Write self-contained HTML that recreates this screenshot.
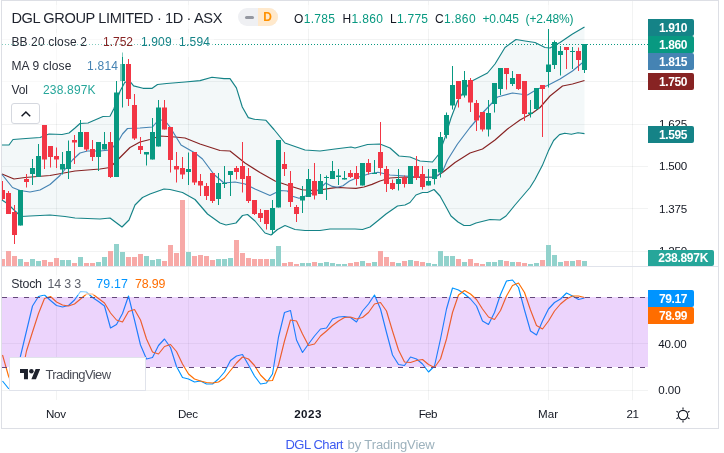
<!DOCTYPE html><html><head><meta charset="utf-8"><title>DGL Chart</title><style>
html,body{margin:0;padding:0;background:#fff}
body{width:724px;height:453px;position:relative;overflow:hidden;font-family:"Liberation Sans",sans-serif}
.t{position:absolute;white-space:nowrap;line-height:1}
.box{position:absolute;left:1px;top:0;width:716px;height:427px;border:1px solid #dddfe5}
.lb{position:absolute;z-index:2;left:648px;width:46px;height:17px;border-radius:0 2px 2px 0;color:#fff}
.lb .t{left:10.9px;color:#fff}

</style></head><body>
<div class="box"></div>
<svg width="724" height="453" viewBox="0 0 724 453" style="position:absolute;left:0;top:0">
<rect x="56" y="1" width="1" height="399" fill="rgba(42,46,57,0.06)"/>
<rect x="188" y="1" width="1" height="399" fill="rgba(42,46,57,0.06)"/>
<rect x="308" y="1" width="1" height="399" fill="rgba(42,46,57,0.06)"/>
<rect x="428" y="1" width="1" height="399" fill="rgba(42,46,57,0.06)"/>
<rect x="548" y="1" width="1" height="399" fill="rgba(42,46,57,0.06)"/>
<rect x="632" y="1" width="1" height="399" fill="rgba(42,46,57,0.06)"/>
<rect x="2" y="39" width="646" height="1" fill="rgba(42,46,57,0.06)"/>
<rect x="2" y="81" width="646" height="1" fill="rgba(42,46,57,0.06)"/>
<rect x="2" y="124" width="646" height="1" fill="rgba(42,46,57,0.06)"/>
<rect x="2" y="166" width="646" height="1" fill="rgba(42,46,57,0.06)"/>
<rect x="2" y="208" width="646" height="1" fill="rgba(42,46,57,0.06)"/>
<rect x="2" y="251" width="646" height="1" fill="rgba(42,46,57,0.06)"/>
<rect x="2" y="343" width="646" height="1" fill="rgba(42,46,57,0.06)"/>
<rect x="2" y="390" width="646" height="1" fill="rgba(42,46,57,0.06)"/>
<rect x="2" y="266" width="716" height="1" fill="#e0e3eb"/>
<polygon points="2,145 9,145 13,139.5 26,138.5 40,137.5 49,134 62,134.5 69,133 75,128 80,123.5 88,123 103,116.5 110,116.3 114,108.4 120,91.2 125,82 131,82.6 133.6,85.9 143,88.3 152.2,88.3 157.5,84.5 166.7,83.5 185,82 200,80.6 212,77.3 224,78.6 230,78.6 236.4,87.9 242.3,107 248.3,117.6 254.2,119.2 266,120.3 274,129.5 285,143 305,150 320,151 335,149 351,147 355,148 367.5,144.5 380,144 390,148 399,156 410,157 420,161 432.5,162 439,154 445,137.5 451,118 457.5,101 470,82 487.5,73 495,64 505,47.5 516,39.5 525,41 535,42.5 545,47.5 550,48 560,42.5 572.5,34 584.5,27 584.5,133.6 578,132.8 571.4,134.3 564.8,133.2 559.5,134.6 553.6,140.5 548.3,151.1 542.3,165.6 535,179.5 530,187.5 521,198 515,205 506,216 500,220 490,219.5 476,223 470,225.5 464,225.5 458,222 451,216 445,205 440,196 434,189.5 427.5,192.5 422.5,192.5 416,195 410,202.5 405,205 397.5,206 386,214 377.5,221 370,227 362.5,229.5 355,229 340,229 330,229 320,230.5 305,230.5 295,229.5 285,225.5 277.5,229.5 271,235 265,233 255,221 247.5,214.5 242.5,215.5 236,223 226,225 220,223 207.5,214 195,199.5 182.5,192.5 170,189.5 164,189 150,194 142.5,197.5 135,205 129,220 122,227 110,218 100,219 75,218 65,216.5 50,215 30,216 21,216.5 14,210 8,204 2,200" fill="rgb(10,110,130)" fill-opacity="0.05"/>
<rect x="2" y="259" width="3" height="7" fill="#f7a9a7"/>
<rect x="6" y="251" width="5" height="15" fill="#f7a9a7"/>
<rect x="12" y="256" width="5" height="10" fill="#f7a9a7"/>
<rect x="18" y="259" width="5" height="7" fill="#92d2cc"/>
<rect x="24" y="262" width="5" height="4" fill="#f7a9a7"/>
<rect x="30" y="259" width="5" height="7" fill="#92d2cc"/>
<rect x="36" y="261" width="5" height="5" fill="#92d2cc"/>
<rect x="42" y="260" width="5" height="6" fill="#f7a9a7"/>
<rect x="48" y="262" width="5" height="4" fill="#f7a9a7"/>
<rect x="54" y="258" width="5" height="8" fill="#f7a9a7"/>
<rect x="60" y="260" width="5" height="6" fill="#92d2cc"/>
<rect x="66" y="260" width="5" height="6" fill="#92d2cc"/>
<rect x="72" y="263" width="5" height="3" fill="#f7a9a7"/>
<rect x="78" y="257" width="5" height="9" fill="#92d2cc"/>
<rect x="84" y="263" width="5" height="3" fill="#f7a9a7"/>
<rect x="90" y="263" width="5" height="3" fill="#f7a9a7"/>
<rect x="96" y="262" width="5" height="4" fill="#92d2cc"/>
<rect x="102" y="257" width="5" height="9" fill="#92d2cc"/>
<rect x="108" y="251" width="5" height="15" fill="#f7a9a7"/>
<rect x="114" y="244" width="5" height="22" fill="#92d2cc"/>
<rect x="120" y="252" width="5" height="14" fill="#92d2cc"/>
<rect x="126" y="257" width="5" height="9" fill="#f7a9a7"/>
<rect x="132" y="257" width="5" height="9" fill="#f7a9a7"/>
<rect x="138" y="254" width="5" height="12" fill="#f7a9a7"/>
<rect x="144" y="256" width="5" height="10" fill="#92d2cc"/>
<rect x="150" y="260" width="5" height="6" fill="#92d2cc"/>
<rect x="156" y="259" width="5" height="7" fill="#92d2cc"/>
<rect x="162" y="261" width="5" height="5" fill="#f7a9a7"/>
<rect x="168" y="245" width="5" height="21" fill="#f7a9a7"/>
<rect x="174" y="253" width="5" height="13" fill="#f7a9a7"/>
<rect x="180" y="200" width="5" height="66" fill="#f7a9a7"/>
<rect x="186" y="252" width="5" height="14" fill="#92d2cc"/>
<rect x="192" y="256" width="5" height="10" fill="#f7a9a7"/>
<rect x="198" y="255" width="5" height="11" fill="#f7a9a7"/>
<rect x="204" y="256" width="5" height="10" fill="#f7a9a7"/>
<rect x="210" y="260" width="5" height="6" fill="#f7a9a7"/>
<rect x="216" y="259" width="5" height="7" fill="#92d2cc"/>
<rect x="222" y="259" width="5" height="7" fill="#92d2cc"/>
<rect x="228" y="258" width="5" height="8" fill="#92d2cc"/>
<rect x="234" y="240" width="5" height="26" fill="#f7a9a7"/>
<rect x="240" y="253" width="5" height="13" fill="#f7a9a7"/>
<rect x="246" y="258" width="5" height="8" fill="#f7a9a7"/>
<rect x="252" y="259" width="5" height="7" fill="#f7a9a7"/>
<rect x="258" y="259" width="5" height="7" fill="#f7a9a7"/>
<rect x="264" y="259" width="5" height="7" fill="#f7a9a7"/>
<rect x="270" y="259" width="5" height="7" fill="#92d2cc"/>
<rect x="276" y="246" width="5" height="20" fill="#92d2cc"/>
<rect x="282" y="263" width="5" height="3" fill="#f7a9a7"/>
<rect x="288" y="262" width="5" height="4" fill="#f7a9a7"/>
<rect x="294" y="264" width="5" height="2" fill="#f7a9a7"/>
<rect x="300" y="263" width="5" height="3" fill="#92d2cc"/>
<rect x="306" y="263" width="5" height="3" fill="#92d2cc"/>
<rect x="312" y="262" width="5" height="4" fill="#f7a9a7"/>
<rect x="318" y="263" width="5" height="3" fill="#92d2cc"/>
<rect x="324" y="262" width="5" height="4" fill="#92d2cc"/>
<rect x="330" y="263" width="5" height="3" fill="#92d2cc"/>
<rect x="336" y="264" width="5" height="2" fill="#92d2cc"/>
<rect x="342" y="264" width="5" height="2" fill="#92d2cc"/>
<rect x="348" y="263" width="5" height="3" fill="#f7a9a7"/>
<rect x="354" y="262" width="5" height="4" fill="#f7a9a7"/>
<rect x="360" y="261" width="5" height="5" fill="#92d2cc"/>
<rect x="366" y="263" width="5" height="3" fill="#f7a9a7"/>
<rect x="372" y="262" width="5" height="4" fill="#92d2cc"/>
<rect x="378" y="251" width="5" height="15" fill="#f7a9a7"/>
<rect x="384" y="257" width="5" height="9" fill="#f7a9a7"/>
<rect x="390" y="262" width="5" height="4" fill="#f7a9a7"/>
<rect x="396" y="263" width="5" height="3" fill="#92d2cc"/>
<rect x="402" y="261" width="5" height="5" fill="#f7a9a7"/>
<rect x="408" y="260" width="5" height="6" fill="#92d2cc"/>
<rect x="414" y="261" width="5" height="5" fill="#f7a9a7"/>
<rect x="420" y="262" width="5" height="4" fill="#f7a9a7"/>
<rect x="426" y="263" width="5" height="3" fill="#92d2cc"/>
<rect x="432" y="264" width="5" height="2" fill="#92d2cc"/>
<rect x="438" y="251" width="5" height="15" fill="#92d2cc"/>
<rect x="444" y="256" width="5" height="10" fill="#92d2cc"/>
<rect x="450" y="256" width="5" height="10" fill="#92d2cc"/>
<rect x="456" y="259" width="5" height="7" fill="#f7a9a7"/>
<rect x="462" y="262" width="5" height="4" fill="#92d2cc"/>
<rect x="468" y="259" width="5" height="7" fill="#f7a9a7"/>
<rect x="474" y="263" width="5" height="3" fill="#f7a9a7"/>
<rect x="480" y="264" width="5" height="2" fill="#f7a9a7"/>
<rect x="486" y="262" width="5" height="4" fill="#92d2cc"/>
<rect x="492" y="262" width="5" height="4" fill="#92d2cc"/>
<rect x="498" y="260" width="5" height="6" fill="#92d2cc"/>
<rect x="504" y="261" width="5" height="5" fill="#f7a9a7"/>
<rect x="510" y="262" width="5" height="4" fill="#92d2cc"/>
<rect x="516" y="262" width="5" height="4" fill="#f7a9a7"/>
<rect x="522" y="263" width="5" height="3" fill="#f7a9a7"/>
<rect x="528" y="264" width="5" height="2" fill="#92d2cc"/>
<rect x="534" y="263" width="5" height="3" fill="#92d2cc"/>
<rect x="540" y="260" width="5" height="6" fill="#f7a9a7"/>
<rect x="546" y="245" width="5" height="21" fill="#92d2cc"/>
<rect x="552" y="255" width="5" height="11" fill="#92d2cc"/>
<rect x="558" y="262" width="5" height="4" fill="#92d2cc"/>
<rect x="564" y="261" width="5" height="5" fill="#f7a9a7"/>
<rect x="570" y="261" width="5" height="5" fill="#92d2cc"/>
<rect x="576" y="260" width="5" height="6" fill="#f7a9a7"/>
<rect x="582" y="261" width="5" height="5" fill="#92d2cc"/>
<polyline points="2,174 14,179 25,177.5 50,175.5 75,171 100,169 110,167.5 117.5,160 130,147.5 140,142 150,139.5 160,136 175,137 185,138 200,144 220,150.5 230,151 245,163 260,172.5 275,181 290,186 302,189.7 308.5,190.3 318,190.3 330,188.4 337.6,187.4 347,188 356,188.4 364,187 372,184.4 380,181 390,178 405,177 422.5,177.5 435,177 442.5,172.5 455,162.5 470,153 482.5,149 495,140 507.5,129 520,120 532.5,113 540,107.5 550,96 562.5,86 572.5,84 584.5,80.5" fill="none" stroke="#872323" stroke-width="1.15" stroke-linejoin="round"/>
<polyline points="2,145 9,145 13,139.5 26,138.5 40,137.5 49,134 62,134.5 69,133 75,128 80,123.5 88,123 103,116.5 110,116.3 114,108.4 120,91.2 125,82 131,82.6 133.6,85.9 143,88.3 152.2,88.3 157.5,84.5 166.7,83.5 185,82 200,80.6 212,77.3 224,78.6 230,78.6 236.4,87.9 242.3,107 248.3,117.6 254.2,119.2 266,120.3 274,129.5 285,143 305,150 320,151 335,149 351,147 355,148 367.5,144.5 380,144 390,148 399,156 410,157 420,161 432.5,162 439,154 445,137.5 451,118 457.5,101 470,82 487.5,73 495,64 505,47.5 516,39.5 525,41 535,42.5 545,47.5 550,48 560,42.5 572.5,34 584.5,27" fill="none" stroke="#158387" stroke-width="1.15" stroke-linejoin="round"/>
<polyline points="2,200 8,204 14,210 21,216.5 30,216 50,215 65,216.5 75,218 100,219 110,218 122,227 129,220 135,205 142.5,197.5 150,194 164,189 170,189.5 182.5,192.5 195,199.5 207.5,214 220,223 226,225 236,223 242.5,215.5 247.5,214.5 255,221 265,233 271,235 277.5,229.5 285,225.5 295,229.5 305,230.5 320,230.5 330,229 340,229 355,229 362.5,229.5 370,227 377.5,221 386,214 397.5,206 405,205 410,202.5 416,195 422.5,192.5 427.5,192.5 434,189.5 440,196 445,205 451,216 458,222 464,225.5 470,225.5 476,223 490,219.5 500,220 506,216 515,205 521,198 530,187.5 535,179.5 542.3,165.6 548.3,151.1 553.6,140.5 559.5,134.6 564.8,133.2 571.4,134.3 578,132.8 584.5,133.6" fill="none" stroke="#158387" stroke-width="1.15" stroke-linejoin="round"/>
<polyline points="2,174.5 12.5,187.5 20,190.5 30,192 40,190 50,184.5 60,175.5 72.5,160 80,153 87.5,151 100,151 110,150 117.5,142.5 122.5,134 127.5,128.5 140,128 152.5,127 157.5,121 164,119.5 170,127 181,145 195,153 202.5,159 214,174.5 224,183 235,182 245,184 255,189 270,195.5 280,190.5 287.5,191 292.5,196.3 299,198.3 308.5,195 318,190.3 325.7,183 332.3,186.4 337.6,187.3 343,185.7 349.5,181 358.8,177 369.4,173.8 378,172.3 390,175 405,176 422.5,177 435,177.5 442.5,171.5 447.5,160 457.5,144 470,127.5 482.5,113 492.5,102.5 497.5,97 512.5,93 527.5,95 537.5,89 547.5,85.5 560,79 572.5,71 584.5,61" fill="none" stroke="#4583b3" stroke-width="1.15" stroke-linejoin="round"/>
<rect x="2" y="181" width="1" height="19" fill="#f23645"/>
<rect x="2" y="190" width="3" height="9" fill="#f23645"/>
<rect x="8" y="191" width="1" height="23" fill="#f23645"/>
<rect x="6" y="193" width="5" height="21" fill="#f23645"/>
<rect x="14" y="205" width="1" height="39" fill="#f23645"/>
<rect x="12" y="212" width="5" height="23" fill="#f23645"/>
<rect x="20" y="190" width="1" height="35.5" fill="#089981"/>
<rect x="18" y="190" width="5" height="35.5" fill="#089981"/>
<rect x="26" y="174" width="1" height="13.5" fill="#f23645"/>
<rect x="24" y="179" width="5" height="3" fill="#f23645"/>
<rect x="32" y="159" width="1" height="26" fill="#089981"/>
<rect x="30" y="168" width="5" height="6" fill="#089981"/>
<rect x="38" y="144" width="1" height="33" fill="#089981"/>
<rect x="36" y="156" width="5" height="21" fill="#089981"/>
<rect x="44" y="125" width="1" height="44" fill="#f23645"/>
<rect x="42" y="125" width="5" height="34.5" fill="#f23645"/>
<rect x="50" y="146" width="1" height="21.5" fill="#f23645"/>
<rect x="48" y="146" width="5" height="11" fill="#f23645"/>
<rect x="56" y="147.5" width="1" height="20.5" fill="#f23645"/>
<rect x="54" y="156" width="5" height="3.5" fill="#f23645"/>
<rect x="62" y="152" width="1" height="22.5" fill="#089981"/>
<rect x="60" y="164" width="5" height="5.5" fill="#089981"/>
<rect x="68" y="140.5" width="1" height="38.5" fill="#089981"/>
<rect x="66" y="151" width="5" height="18" fill="#089981"/>
<rect x="74" y="135" width="1" height="29" fill="#f23645"/>
<rect x="72" y="140" width="5" height="2.5" fill="#f23645"/>
<rect x="80" y="120" width="1" height="27" fill="#089981"/>
<rect x="78" y="132" width="5" height="15" fill="#089981"/>
<rect x="86" y="132" width="1" height="19" fill="#f23645"/>
<rect x="84" y="132" width="5" height="17.5" fill="#f23645"/>
<rect x="92" y="140" width="1" height="21" fill="#f23645"/>
<rect x="90" y="149" width="5" height="8" fill="#f23645"/>
<rect x="98" y="142" width="1" height="29" fill="#089981"/>
<rect x="96" y="142" width="5" height="15" fill="#089981"/>
<rect x="104" y="132" width="1" height="17.5" fill="#089981"/>
<rect x="102" y="144" width="5" height="5.5" fill="#089981"/>
<rect x="110" y="132" width="1" height="46" fill="#f23645"/>
<rect x="108" y="142" width="5" height="35" fill="#f23645"/>
<rect x="116" y="81" width="1" height="96" fill="#089981"/>
<rect x="114" y="92.5" width="5" height="84.5" fill="#089981"/>
<rect x="122" y="52.5" width="1" height="55" fill="#089981"/>
<rect x="120" y="64" width="5" height="17" fill="#089981"/>
<rect x="128" y="59" width="1" height="47" fill="#f23645"/>
<rect x="126" y="64" width="5" height="35" fill="#f23645"/>
<rect x="134" y="94" width="1" height="46" fill="#f23645"/>
<rect x="132" y="105" width="5" height="33.5" fill="#f23645"/>
<rect x="140" y="137" width="1" height="17" fill="#f23645"/>
<rect x="138" y="146" width="5" height="4" fill="#f23645"/>
<rect x="146" y="152" width="1" height="13.5" fill="#089981"/>
<rect x="144" y="152" width="5" height="2.5" fill="#089981"/>
<rect x="152" y="118" width="1" height="41.5" fill="#089981"/>
<rect x="150" y="132" width="5" height="27.5" fill="#089981"/>
<rect x="158" y="100" width="1" height="46.5" fill="#089981"/>
<rect x="156" y="107.5" width="5" height="39" fill="#089981"/>
<rect x="164" y="100" width="1" height="29.5" fill="#f23645"/>
<rect x="162" y="107.5" width="5" height="22" fill="#f23645"/>
<rect x="170" y="127" width="1" height="45.5" fill="#f23645"/>
<rect x="168" y="127" width="5" height="33" fill="#f23645"/>
<rect x="176" y="152" width="1" height="30.5" fill="#f23645"/>
<rect x="174" y="166" width="5" height="3.5" fill="#f23645"/>
<rect x="182" y="157" width="1" height="22" fill="#f23645"/>
<rect x="180" y="168" width="5" height="6.5" fill="#f23645"/>
<rect x="188" y="152.5" width="1" height="32.5" fill="#089981"/>
<rect x="186" y="169" width="5" height="3" fill="#089981"/>
<rect x="194" y="152" width="1" height="33" fill="#f23645"/>
<rect x="192" y="152" width="5" height="30.5" fill="#f23645"/>
<rect x="200" y="174" width="1" height="22" fill="#f23645"/>
<rect x="198" y="181" width="5" height="4.5" fill="#f23645"/>
<rect x="206" y="183" width="1" height="17" fill="#f23645"/>
<rect x="204" y="186" width="5" height="10" fill="#f23645"/>
<rect x="212" y="173" width="1" height="30" fill="#f23645"/>
<rect x="210" y="173" width="5" height="28" fill="#f23645"/>
<rect x="218" y="173" width="1" height="32" fill="#089981"/>
<rect x="216" y="183" width="5" height="16" fill="#089981"/>
<rect x="224" y="166" width="1" height="22" fill="#089981"/>
<rect x="222" y="183" width="5" height="1" fill="#089981"/>
<rect x="230" y="171" width="1" height="25" fill="#089981"/>
<rect x="228" y="171" width="5" height="4" fill="#089981"/>
<rect x="236" y="166" width="1" height="13.5" fill="#f23645"/>
<rect x="234" y="168" width="5" height="4" fill="#f23645"/>
<rect x="242" y="142" width="1" height="50.5" fill="#f23645"/>
<rect x="240" y="166" width="5" height="13" fill="#f23645"/>
<rect x="248" y="168" width="1" height="35" fill="#f23645"/>
<rect x="246" y="176" width="5" height="25" fill="#f23645"/>
<rect x="254" y="200" width="1" height="15" fill="#f23645"/>
<rect x="252" y="200" width="5" height="14" fill="#f23645"/>
<rect x="260" y="209" width="1" height="13" fill="#f23645"/>
<rect x="258" y="213" width="5" height="5" fill="#f23645"/>
<rect x="266" y="210" width="1" height="19.5" fill="#f23645"/>
<rect x="264" y="210" width="5" height="14" fill="#f23645"/>
<rect x="272" y="200" width="1" height="34.5" fill="#089981"/>
<rect x="270" y="208" width="5" height="22" fill="#089981"/>
<rect x="278" y="140" width="1" height="67.5" fill="#089981"/>
<rect x="276" y="140" width="5" height="67.5" fill="#089981"/>
<rect x="284" y="152" width="1" height="24" fill="#f23645"/>
<rect x="282" y="164" width="5" height="5" fill="#f23645"/>
<rect x="290" y="171" width="1" height="36" fill="#f23645"/>
<rect x="288" y="183" width="5" height="19" fill="#f23645"/>
<rect x="296" y="205" width="1" height="17" fill="#f23645"/>
<rect x="294" y="207" width="5" height="7" fill="#f23645"/>
<rect x="302" y="186" width="1" height="27" fill="#089981"/>
<rect x="300" y="196" width="5" height="4.5" fill="#089981"/>
<rect x="308" y="169" width="1" height="28" fill="#089981"/>
<rect x="306" y="179" width="5" height="18" fill="#089981"/>
<rect x="314" y="163" width="1" height="36.5" fill="#f23645"/>
<rect x="312" y="181" width="5" height="14.5" fill="#f23645"/>
<rect x="320" y="174" width="1" height="20" fill="#089981"/>
<rect x="318" y="181" width="5" height="13" fill="#089981"/>
<rect x="326" y="175.5" width="1" height="24.5" fill="#089981"/>
<rect x="324" y="177" width="5" height="1" fill="#089981"/>
<rect x="332" y="161" width="1" height="18" fill="#089981"/>
<rect x="330" y="171" width="5" height="8" fill="#089981"/>
<rect x="338" y="169" width="1" height="16" fill="#089981"/>
<rect x="336" y="175.5" width="5" height="1.5" fill="#089981"/>
<rect x="344" y="171" width="1" height="8.5" fill="#089981"/>
<rect x="342" y="178" width="5" height="1.5" fill="#089981"/>
<rect x="350" y="170" width="1" height="8" fill="#f23645"/>
<rect x="348" y="173" width="5" height="4" fill="#f23645"/>
<rect x="356" y="166" width="1" height="19.5" fill="#f23645"/>
<rect x="354" y="173" width="5" height="6" fill="#f23645"/>
<rect x="362" y="163" width="1" height="22.5" fill="#089981"/>
<rect x="360" y="163" width="5" height="22.5" fill="#089981"/>
<rect x="368" y="159" width="1" height="15.5" fill="#f23645"/>
<rect x="366" y="163" width="5" height="9" fill="#f23645"/>
<rect x="374" y="160" width="1" height="14" fill="#089981"/>
<rect x="372" y="173" width="5" height="1" fill="#089981"/>
<rect x="380" y="122" width="1" height="53.5" fill="#f23645"/>
<rect x="378" y="152" width="5" height="16" fill="#f23645"/>
<rect x="386" y="166" width="1" height="26" fill="#f23645"/>
<rect x="384" y="169" width="5" height="15" fill="#f23645"/>
<rect x="392" y="179.5" width="1" height="10.5" fill="#f23645"/>
<rect x="390" y="183" width="5" height="6" fill="#f23645"/>
<rect x="398" y="169" width="1" height="21.5" fill="#089981"/>
<rect x="396" y="179" width="5" height="5" fill="#089981"/>
<rect x="404" y="175.5" width="1" height="12" fill="#f23645"/>
<rect x="402" y="177.5" width="5" height="6.5" fill="#f23645"/>
<rect x="410" y="166" width="1" height="18" fill="#089981"/>
<rect x="408" y="166" width="5" height="18" fill="#089981"/>
<rect x="416" y="156" width="1" height="24" fill="#f23645"/>
<rect x="414" y="166" width="5" height="12" fill="#f23645"/>
<rect x="422" y="166" width="1" height="23.5" fill="#f23645"/>
<rect x="420" y="174" width="5" height="13" fill="#f23645"/>
<rect x="428" y="169" width="1" height="16.5" fill="#089981"/>
<rect x="426" y="181" width="5" height="4.5" fill="#089981"/>
<rect x="434" y="169" width="1" height="15.5" fill="#089981"/>
<rect x="432" y="169" width="5" height="10" fill="#089981"/>
<rect x="440" y="132" width="1" height="45.5" fill="#089981"/>
<rect x="438" y="137" width="5" height="35.5" fill="#089981"/>
<rect x="446" y="112.5" width="1" height="26" fill="#089981"/>
<rect x="444" y="115" width="5" height="20" fill="#089981"/>
<rect x="452" y="66" width="1" height="43.5" fill="#089981"/>
<rect x="450" y="85" width="5" height="20.5" fill="#089981"/>
<rect x="458" y="81" width="1" height="26.5" fill="#f23645"/>
<rect x="456" y="81" width="5" height="18" fill="#f23645"/>
<rect x="464" y="71" width="1" height="26.5" fill="#089981"/>
<rect x="462" y="80" width="5" height="15.5" fill="#089981"/>
<rect x="470" y="78" width="1" height="34" fill="#f23645"/>
<rect x="468" y="80" width="5" height="22.5" fill="#f23645"/>
<rect x="476" y="100" width="1" height="31" fill="#f23645"/>
<rect x="474" y="103" width="5" height="17.5" fill="#f23645"/>
<rect x="482" y="112" width="1" height="19.5" fill="#f23645"/>
<rect x="480" y="112" width="5" height="17.5" fill="#f23645"/>
<rect x="488" y="100" width="1" height="36.5" fill="#089981"/>
<rect x="486" y="113" width="5" height="16.5" fill="#089981"/>
<rect x="494" y="83" width="1" height="29.5" fill="#089981"/>
<rect x="492" y="83" width="5" height="21" fill="#089981"/>
<rect x="500" y="68" width="1" height="27" fill="#089981"/>
<rect x="498" y="68" width="5" height="21" fill="#089981"/>
<rect x="506" y="68" width="1" height="21.5" fill="#f23645"/>
<rect x="504" y="68" width="5" height="6" fill="#f23645"/>
<rect x="512" y="71" width="1" height="15" fill="#089981"/>
<rect x="510" y="78" width="5" height="6" fill="#089981"/>
<rect x="518" y="74" width="1" height="16" fill="#f23645"/>
<rect x="516" y="74" width="5" height="15" fill="#f23645"/>
<rect x="524" y="81" width="1" height="40" fill="#f23645"/>
<rect x="522" y="81" width="5" height="33" fill="#f23645"/>
<rect x="530" y="100" width="1" height="17.5" fill="#089981"/>
<rect x="528" y="112.5" width="5" height="1.5" fill="#089981"/>
<rect x="536" y="88" width="1" height="22.5" fill="#089981"/>
<rect x="534" y="88" width="5" height="21" fill="#089981"/>
<rect x="542" y="85" width="1" height="52" fill="#f23645"/>
<rect x="540" y="85" width="5" height="4" fill="#f23645"/>
<rect x="548" y="29" width="1" height="58.5" fill="#089981"/>
<rect x="546" y="64.5" width="5" height="7.5" fill="#089981"/>
<rect x="554" y="40.5" width="1" height="28.5" fill="#089981"/>
<rect x="552" y="42" width="5" height="23" fill="#089981"/>
<rect x="560" y="46" width="1" height="29.5" fill="#089981"/>
<rect x="558" y="51" width="5" height="4" fill="#089981"/>
<rect x="566" y="47" width="1" height="22" fill="#f23645"/>
<rect x="564" y="47" width="5" height="3" fill="#f23645"/>
<rect x="572" y="47" width="1" height="22" fill="#089981"/>
<rect x="570" y="51" width="5" height="1" fill="#089981"/>
<rect x="578" y="47.5" width="1" height="23.5" fill="#f23645"/>
<rect x="576" y="51" width="5" height="9" fill="#f23645"/>
<rect x="584" y="44" width="1" height="29" fill="#089981"/>
<rect x="582" y="44" width="5" height="26" fill="#089981"/>
<line x1="2" y1="44.5" x2="648" y2="44.5" stroke="#089981" stroke-width="1" stroke-dasharray="1 2"/>
<clipPath id="sc"><rect x="2" y="267" width="646" height="133"/></clipPath>
<g clip-path="url(#sc)"><polyline points="2.5,381 8.5,388.5 14.5,388 20.5,356 26.5,331 32.5,306 38.5,296.5 44.5,295 50.5,300.5 56.5,305.5 62.5,307 68.5,305.5 74.5,300 80.5,291.5 86.5,292 92.5,297.5 98.5,301.5 104.5,306 110.5,328 116.5,324.5 122.5,313.5 128.5,296 134.5,320 140.5,345 146.5,359 152.5,357.5 158.5,345.5 164.5,339 170.5,347.5 176.5,366.5 182.5,377.5 188.5,379 194.5,382 200.5,381 206.5,384 212.5,384 218.5,379 224.5,372 230.5,360.5 236.5,356 242.5,354.5 248.5,365 254.5,376 260.5,384 266.5,383 272.5,374 278.5,337 284.5,312.5 290.5,310.5 296.5,340 302.5,352.5 308.5,344 314.5,336 320.5,329 326.5,328 332.5,319 338.5,317 344.5,316.5 350.5,317.5 356.5,322 362.5,311 368.5,304 374.5,295 380.5,309 386.5,332.5 392.5,355 398.5,364.5 404.5,365.5 410.5,357 416.5,359 422.5,364 428.5,372 434.5,366 440.5,339 446.5,309 452.5,288 458.5,290 464.5,294 470.5,299 476.5,306 482.5,321 488.5,324.5 494.5,312.5 500.5,294.5 506.5,281 512.5,280 518.5,287.5 524.5,310 530.5,331 536.5,335 542.5,321 548.5,309 554.5,302.5 560.5,299 566.5,293 572.5,296 578.5,299.5 584.5,298" fill="none" stroke="#0094ff" stroke-width="1.15" stroke-linejoin="round"/>
<polyline points="2.5,355 8.5,376 14.5,390 20.5,380 26.5,351 32.5,332 38.5,313.5 44.5,298.5 50.5,296.5 56.5,302 62.5,305 68.5,306 74.5,304 80.5,299 86.5,294 92.5,294 98.5,298.5 104.5,303 110.5,313 116.5,320 122.5,322 128.5,311.5 134.5,309.5 140.5,320 146.5,339 152.5,352 158.5,354 164.5,346.5 170.5,344.5 176.5,351.5 182.5,364 188.5,374 194.5,379 200.5,381 206.5,382.5 212.5,383 218.5,382 224.5,378 230.5,370.5 236.5,363 242.5,357 248.5,359 254.5,365.5 260.5,375 266.5,381 272.5,380.5 278.5,365 284.5,341 290.5,320 296.5,321 302.5,334 308.5,345.5 314.5,344 320.5,336 326.5,331 332.5,325.5 338.5,321 344.5,317.5 350.5,317 356.5,319 362.5,317.5 368.5,312.5 374.5,304 380.5,302.5 386.5,311 392.5,331 398.5,350 404.5,362 410.5,362.5 416.5,360.5 422.5,359.5 428.5,364.5 434.5,367.5 440.5,359 446.5,339 452.5,312.5 458.5,295 464.5,290.5 470.5,294 476.5,299.5 482.5,309 488.5,317 494.5,319.5 500.5,310.5 506.5,296 512.5,285.5 518.5,283 524.5,292.5 530.5,310 536.5,325.5 542.5,329 548.5,321 554.5,311 560.5,304 566.5,299 572.5,296 578.5,296 584.5,297.5" fill="none" stroke="#ff6d00" stroke-width="1.15" stroke-linejoin="round"/></g>
<rect x="2" y="297" width="646" height="70" fill="rgb(160,35,240)" fill-opacity="0.195"/>
<line x1="2" y1="297.5" x2="648" y2="297.5" stroke="#64487a" stroke-width="1" stroke-dasharray="5 6"/>
<line x1="2" y1="367.5" x2="648" y2="367.5" stroke="#64487a" stroke-width="1" stroke-dasharray="5 6"/>
<rect x="2" y="5" width="576" height="24" fill="#fff" fill-opacity="0.5"/>
<rect x="2" y="33" width="212" height="24" fill="#fff" fill-opacity="0.5"/>
<rect x="2" y="57" width="120" height="24" fill="#fff" fill-opacity="0.5"/>
<rect x="2" y="81" width="98" height="22" fill="#fff" fill-opacity="0.5"/>
<rect x="2" y="275" width="168" height="20" fill="#fff" fill-opacity="0.5"/>
</svg>
<div class="lb" style="top:19px;height:17px;background:#158387;width:46px;left:648px;border-radius:0 2px 2px 0"></div>
<div class="lb" style="top:36px;height:17px;background:#089981;width:46px;left:648px;border-radius:0 2px 2px 0"></div>
<div class="lb" style="top:53px;height:17px;background:#4583b3;width:46px;left:648px;border-radius:0 2px 2px 0"></div>
<div class="lb" style="top:73px;height:17px;background:#872323;width:46px;left:648px;border-radius:0 2px 2px 0"></div>
<div class="lb" style="top:126px;height:17px;background:#158387;width:46px;left:648px;border-radius:0 2px 2px 0"></div>
<div class="lb" style="top:250px;height:16px;background:#26a69a;width:66px;left:648px;border-radius:0 2px 2px 0"></div>
<div class="lb" style="top:290px;height:17px;background:#0094ff;width:46px;left:648px;border-radius:0 2px 2px 0"></div>
<div class="lb" style="top:307px;height:17px;background:#ff6d00;width:46px;left:648px;border-radius:0 2px 2px 0"></div>
<div style="position:absolute;left:238px;top:8px;width:40px;height:18px;border-radius:9px;overflow:hidden;background:#eff0f3"><div style="position:absolute;left:20px;top:0;width:20px;height:18px;background:#ffe9cc"></div><div style="position:absolute;left:6.5px;top:7.5px;width:9px;height:3px;border-radius:1.5px;background:#9598a1"></div></div>
<div style="position:absolute;left:11px;top:103px;width:27px;height:19px;border:1px solid #d5d8df;border-radius:3px;background:#fff"><svg width="27" height="19" style="position:absolute;left:0;top:0"><path d="M9.6 12.2 L13.9 8 L18.2 12.2" fill="none" stroke="#131722" stroke-width="1.5"/></svg></div>
<div style="position:absolute;left:9px;top:357px;width:135px;height:32px;border:1px solid #e0e3eb;background:#fff"><svg width="20.5" height="10.25" viewBox="0 0 36 18" style="position:absolute;left:9.5px;top:11.4px"><path d="M14 18H7V7H0V0h14v18zM28 18h-8l7.5-18h8L28 18z" fill="#1e222d"/><circle cx="20" cy="4" r="4" fill="#1e222d"/></svg></div>
<svg width="16" height="16" viewBox="-8 -8 16 16" style="position:absolute;left:675.4px;top:406.5px"><circle r="4.7" fill="none" stroke="#131722" stroke-width="1.15"/><g stroke="#131722" stroke-width="1.1"><line x1="0" y1="-5.6" x2="0" y2="-7.5" transform="rotate(0)"/><line x1="0" y1="-5.6" x2="0" y2="-7.5" transform="rotate(60)"/><line x1="0" y1="-5.6" x2="0" y2="-7.5" transform="rotate(120)"/><line x1="0" y1="-5.6" x2="0" y2="-7.5" transform="rotate(180)"/><line x1="0" y1="-5.6" x2="0" y2="-7.5" transform="rotate(240)"/><line x1="0" y1="-5.6" x2="0" y2="-7.5" transform="rotate(300)"/></g></svg>
<span class="t" id="t0" style="left:11.4px;top:10.54px;font-size:14.6px;color:#1e222d;font-weight:400;letter-spacing:-0.385px">DGL GROUP LIMITED · 1D · ASX</span>
<span class="t" id="t1" style="left:294px;top:13.24px;font-size:12px;color:#131722;font-weight:400;letter-spacing:0.325px">O<span style="color:#089981">1.785</span></span>
<span class="t" id="t2" style="left:342.6px;top:13.24px;font-size:12px;color:#131722;font-weight:400;letter-spacing:0.339px">H<span style="color:#089981">1.860</span></span>
<span class="t" id="t3" style="left:390px;top:13.24px;font-size:12px;color:#131722;font-weight:400;letter-spacing:0.256px">L<span style="color:#089981">1.775</span></span>
<span class="t" id="t4" style="left:435px;top:13.24px;font-size:12px;color:#131722;font-weight:400;letter-spacing:0.379px">C<span style="color:#089981">1.860</span></span>
<span class="t" id="t5" style="left:482.4px;top:13.24px;font-size:12px;color:#089981;font-weight:400;letter-spacing:-0.089px">+0.045</span>
<span class="t" id="t6" style="left:525.6px;top:13.24px;font-size:12px;color:#089981;font-weight:400;letter-spacing:-0.147px">(+2.48%)</span>
<span class="t" id="t7" style="left:11.4px;top:36.24px;font-size:12px;color:#2a2e39;font-weight:400;letter-spacing:0.129px">BB 20 close 2</span>
<span class="t" id="t8" style="left:103px;top:36.24px;font-size:12px;color:#872323;font-weight:400;letter-spacing:-0.008px">1.752</span>
<span class="t" id="t9" style="left:141px;top:36.24px;font-size:12px;color:#158387;font-weight:400;letter-spacing:0.142px">1.909</span>
<span class="t" id="t10" style="left:179px;top:36.24px;font-size:12px;color:#158387;font-weight:400;letter-spacing:0.242px">1.594</span>
<span class="t" id="t11" style="left:11.4px;top:59.64px;font-size:12px;color:#2a2e39;font-weight:400;letter-spacing:0.144px">MA 9 close</span>
<span class="t" id="t12" style="left:87px;top:59.64px;font-size:12px;color:#4583b3;font-weight:400;letter-spacing:0.242px">1.814</span>
<span class="t" id="t13" style="left:11.4px;top:84.24px;font-size:12px;color:#2a2e39;font-weight:400;letter-spacing:-0.044px">Vol</span>
<span class="t" id="t14" style="left:43px;top:84.24px;font-size:12px;color:#26a69a;font-weight:400;letter-spacing:0.173px">238.897K</span>
<span class="t" id="t15" style="left:11.25px;top:278.10px;font-size:12.4px;color:#2a2e39;font-weight:400;letter-spacing:-0.234px">Stoch</span>
<span class="t" id="t16" style="left:47.5px;top:278.10px;font-size:12.4px;color:#5d606b;font-weight:400;letter-spacing:-0.141px">14 3 3</span>
<span class="t" id="t17" style="left:96.25px;top:278.10px;font-size:12.4px;color:#0094ff;font-weight:400;letter-spacing:0.184px">79.17</span>
<span class="t" id="t18" style="left:135px;top:278.10px;font-size:12.4px;color:#ff6d00;font-weight:400;letter-spacing:-0.129px">78.99</span>
<span class="t" id="t19" style="left:658.9px;top:117.78px;font-size:11.6px;color:#131722;font-weight:400;letter-spacing:-0.179px">1.625</span>
<span class="t" id="t20" style="left:658.9px;top:160.28px;font-size:11.6px;color:#131722;font-weight:400;letter-spacing:-0.179px">1.500</span>
<span class="t" id="t21" style="left:658.9px;top:202.78px;font-size:11.6px;color:#131722;font-weight:400;letter-spacing:-0.179px">1.375</span>
<span class="t" id="t22" style="left:658.9px;top:245.28px;font-size:11.6px;color:#131722;font-weight:400;letter-spacing:-0.179px">1.250</span>
<span class="t" id="t23" style="left:658.2px;top:338.08px;font-size:11.6px;color:#131722;font-weight:400;letter-spacing:-0.129px">40.00</span>
<span class="t" id="t24" style="left:658.2px;top:383.78px;font-size:11.6px;color:#131722;font-weight:400;letter-spacing:0.007px">0.00</span>
<span class="t" id="t25" style="left:46px;top:407.98px;font-size:11.6px;color:#131722;font-weight:400;letter-spacing:-0.312px">Nov</span>
<span class="t" id="t26" style="left:178px;top:407.98px;font-size:11.6px;color:#131722;font-weight:400;letter-spacing:-0.312px">Dec</span>
<span class="t" id="t27" style="left:418.65px;top:407.98px;font-size:11.6px;color:#131722;font-weight:400;letter-spacing:-0.600px">Feb</span>
<span class="t" id="t28" style="left:538px;top:407.98px;font-size:11.6px;color:#131722;font-weight:400;letter-spacing:0.016px">Mar</span>
<span class="t" id="t29" style="left:626.6px;top:407.98px;font-size:11.6px;color:#131722;font-weight:400;letter-spacing:-0.600px">21</span>
<span class="t" id="t30" style="left:294.2px;top:407.98px;font-size:11.6px;color:#131722;font-weight:700;letter-spacing:0.468px">2023</span>
<span class="t" id="t31" style="left:45.5px;top:367.60px;font-size:13px;color:#4a4d57;font-weight:400;letter-spacing:-0.600px">TradingView</span>
<span class="t" id="t32" style="left:285.4px;top:438.10px;font-size:13px;color:#3d5af1;font-weight:400;letter-spacing:-0.457px">DGL Chart</span>
<span class="t" id="t33" style="left:347.6px;top:438.10px;font-size:13px;color:#9db2bd;font-weight:400;letter-spacing:-0.120px">by TradingView</span>
<span class="t" id="t34" style="left:658.9px;top:21.84px;font-size:12px;color:#fff;font-weight:700;letter-spacing:-0.358px;z-index:3">1.910</span>
<span class="t" id="t35" style="left:658.9px;top:38.84px;font-size:12px;color:#fff;font-weight:700;letter-spacing:-0.358px;z-index:3">1.860</span>
<span class="t" id="t36" style="left:658.9px;top:55.84px;font-size:12px;color:#fff;font-weight:700;letter-spacing:-0.358px;z-index:3">1.815</span>
<span class="t" id="t37" style="left:658.9px;top:75.84px;font-size:12px;color:#fff;font-weight:700;letter-spacing:-0.358px;z-index:3">1.750</span>
<span class="t" id="t38" style="left:658.9px;top:128.84px;font-size:12px;color:#fff;font-weight:700;letter-spacing:-0.358px;z-index:3">1.595</span>
<span class="t" id="t39" style="left:658.3px;top:252.34px;font-size:12px;color:#fff;font-weight:700;letter-spacing:-0.292px;z-index:3">238.897K</span>
<span class="t" id="t40" style="left:658.9px;top:292.84px;font-size:12px;color:#fff;font-weight:700;letter-spacing:-0.358px;z-index:3">79.17</span>
<span class="t" id="t41" style="left:658.9px;top:309.84px;font-size:12px;color:#fff;font-weight:700;letter-spacing:-0.358px;z-index:3">78.99</span>
<span class="t" id="t42" style="left:263.2px;top:11.44px;font-size:12px;color:#ff9100;font-weight:700;letter-spacing:0.000px">D</span>
</body></html>
